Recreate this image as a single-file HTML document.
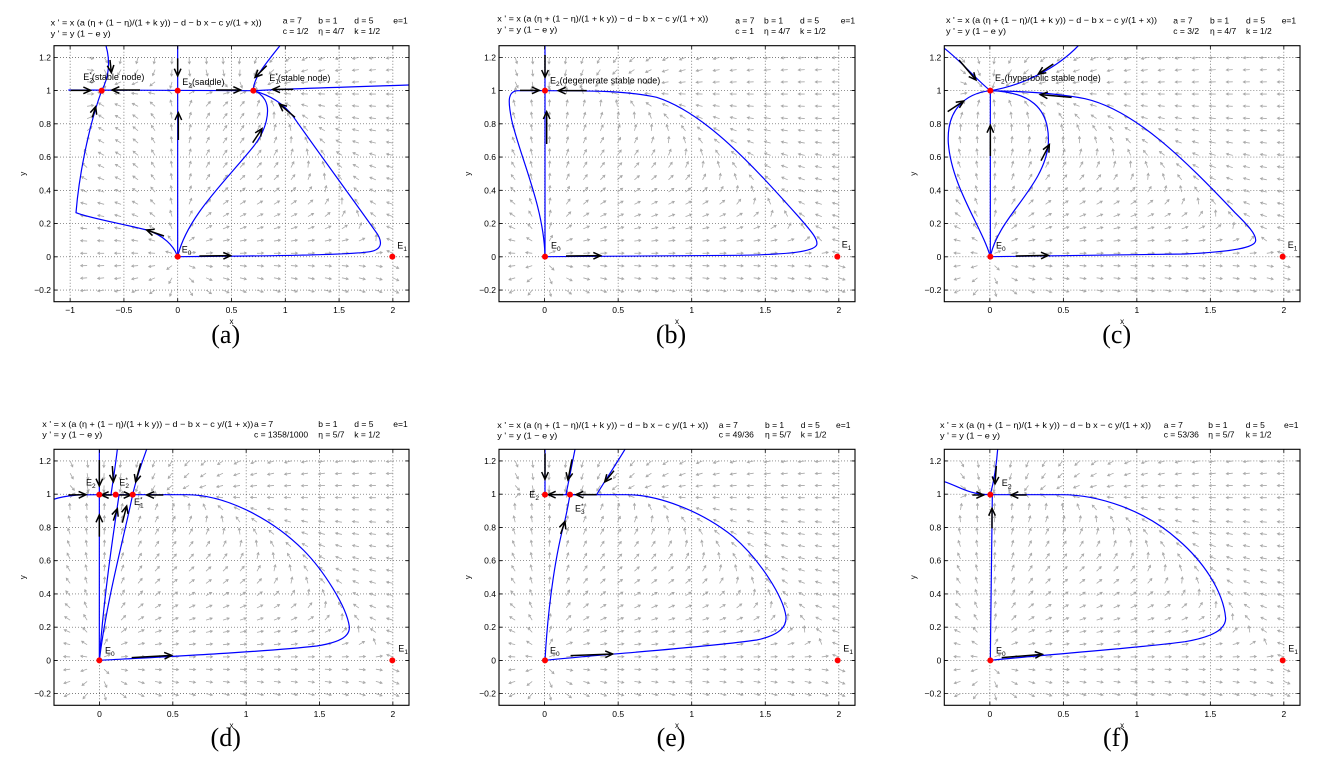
<!DOCTYPE html>
<html><head><meta charset="utf-8">
<style>
html,body{margin:0;padding:0;background:#fff;}
svg{display:block;}
text{font-family:"Liberation Sans",Arial,sans-serif;fill:#000;}
.lab{font-size:9px;}
.hd{font-size:8.5px;}
.pl text{font-family:"Liberation Serif","Times New Roman",serif;font-size:26px;}
.bl{fill:none;stroke:#0000ff;stroke-width:3.6;}
.ar{fill:none;stroke:#000;stroke-width:4.5;marker-end:url(#ah);}
.dot{fill:#ff0000;}
</style></head><body>
<svg id="s" width="1332" height="759" viewBox="0 0 1332 759" xmlns="http://www.w3.org/2000/svg">
<defs><marker id="ah" markerUnits="userSpaceOnUse" markerWidth="40" markerHeight="40" viewBox="-30 -20 40 40" refX="0" refY="0" orient="auto" overflow="visible"><path d="M-22,-10 L0,0 L-22,10" fill="none" stroke="#000" stroke-width="4.5"/></marker></defs>
<rect x="0" y="0" width="1332" height="759" fill="#fff"/>
<g id="back"></g>

<!-- Panel a -->
<g transform="translate(0,0) scale(0.333333)">
<path class="bl" d="M205,270 L760,272"/>
<path class="bl" d="M1227,255 C1000,262 850,267 760,272"/>
<path class="bl" d="M533,137 L533,770"/>
<path class="bl" d="M318,137 C330,180 330,225 305,272"/>
<path class="bl" d="M840,137 C790,200 760,235 760,272"/>
<path class="bl" d="M533,770 C522,738 490,705 440,690 C360,670 260,652 228,638 C236,540 262,390 305,272"/>
<path class="bl" d="M533,770 C560,650 680,540 760,440 C800,390 812,330 795,300 C785,283 772,275 760,272"/>
<path class="bl" d="M533,770 C800,768 1050,765 1110,755 C1150,748 1148,722 1125,692 C1060,600 950,450 880,350 C850,310 810,285 760,272"/>
<path class="ar" d="M330,180 L334,218"/>
<path class="ar" d="M533,175 L533,228"/>
<path class="ar" d="M535,420 L535,338"/>
<path class="ar" d="M212,271 L272,271"/>
<path class="ar" d="M420,270 L336,270"/>
<path class="ar" d="M648,270 L722,270"/>
<path class="ar" d="M800,197 L765,232"/>
<path class="ar" d="M880,268 L818,268"/>
<path class="ar" d="M277,352 L287,320"/>
<path class="ar" d="M492,708 L440,690"/>
<path class="ar" d="M758,428 L786,386"/>
<path class="ar" d="M885,352 L838,312"/>
<path class="ar" d="M598,768 L692,767"/>
<circle class="dot" cx="305" cy="272" r="9"/><circle class="dot" cx="533" cy="272" r="9"/><circle class="dot" cx="760" cy="272" r="9"/><circle class="dot" cx="533" cy="770" r="9"/><circle class="dot" cx="1177" cy="770" r="9"/>
</g>

<!-- Panel b -->
<g transform="translate(440,0) scale(0.333333)">
<path class="bl" d="M315,137 L315,770"/>
<path class="bl" d="M315,770 C312,620 240,470 215,360 C205,310 200,272 235,272 L315,272"/>
<path class="bl" d="M315,770 L900,766 C1050,763 1120,755 1130,735 C1136,718 1110,690 1080,655 C950,510 800,340 650,292 C560,272 450,272 315,272"/>
<path class="ar" d="M315,165 L315,232"/>
<path class="ar" d="M240,271 L298,271"/>
<path class="ar" d="M440,272 L355,272"/>
<path class="ar" d="M320,432 L320,335"/>
<path class="ar" d="M378,768 L482,767"/>
<circle class="dot" cx="315" cy="272" r="9"/><circle class="dot" cx="315" cy="770" r="9"/><circle class="dot" cx="1192" cy="770" r="9"/>
</g>

<!-- Panel c -->
<g transform="translate(885,0) scale(0.333333)">
<path class="bl" d="M316,272 L316,770"/>
<path class="bl" d="M178,145 C230,185 275,240 316,272"/>
<path class="bl" d="M580,137 C520,200 420,255 316,272"/>
<path class="bl" d="M316,770 C290,680 200,560 190,430 C184,330 240,280 316,272"/>
<path class="bl" d="M316,770 C340,650 480,560 490,430 C495,320 430,275 316,272"/>
<path class="bl" d="M316,770 L900,762 C1050,755 1110,742 1112,722 C1114,700 1080,668 1050,638 C900,480 750,330 600,296 C520,280 420,274 316,272"/>
<path class="ar" d="M222,180 L273,240"/>
<path class="ar" d="M505,192 L460,222"/>
<path class="ar" d="M188,335 L236,303"/>
<path class="ar" d="M316,468 L316,376"/>
<path class="ar" d="M468,482 L493,434"/>
<path class="ar" d="M560,292 L466,284"/>
<path class="ar" d="M392,768 L490,766"/>
<circle class="dot" cx="316" cy="272" r="9"/><circle class="dot" cx="316" cy="770" r="9"/><circle class="dot" cx="1193" cy="770" r="9"/>
</g>

<!-- Panel d -->
<g transform="translate(0,400) scale(0.333333)">
<path class="bl" d="M161,298 C200,285 240,284 298,284 L398,284"/>
<path class="bl" d="M298,148 L298,781"/>
<path class="bl" d="M352,148 C346,200 338,250 333,284"/>
<path class="bl" d="M298,781 C310,600 340,400 357,286"/>
<path class="bl" d="M298,781 C320,600 370,420 398,284 C410,230 425,190 440,148"/>
<path class="bl" d="M298,781 C500,770 800,755 950,738 C1030,725 1050,705 1048,680 C1040,620 970,510 910,450 C820,360 680,284 560,284 L398,284"/>
<path class="ar" d="M298,180 L298,258"/>
<path class="ar" d="M337,198 L340,246"/>
<path class="ar" d="M422,190 L407,246"/>
<path class="ar" d="M205,285 L258,284"/>
<path class="ar" d="M335,285 L304,285"/>
<path class="ar" d="M358,285 L393,285"/>
<path class="ar" d="M490,285 L440,285"/>
<path class="ar" d="M298,410 L298,345"/>
<path class="ar" d="M340,362 L352,326"/>
<path class="ar" d="M367,368 L380,318"/>
<path class="ar" d="M395,773 L515,766"/>
<circle class="dot" cx="298" cy="284" r="9"/><circle class="dot" cx="347" cy="284" r="9"/><circle class="dot" cx="398" cy="284" r="9"/><circle class="dot" cx="298" cy="781" r="9"/><circle class="dot" cx="1177" cy="781" r="9"/>
</g>

<!-- Panel e -->
<g transform="translate(440,400) scale(0.333333)">
<path class="bl" d="M315,148 L315,284"/>
<path class="bl" d="M315,284 L470,284 C490,250 530,190 555,148"/>
<path class="bl" d="M405,148 C395,200 385,250 378,284"/>
<path class="bl" d="M315,781 C325,600 350,450 375,360 C382,330 387,300 390,284"/>
<path class="bl" d="M315,781 C500,762 800,742 950,720 C1020,705 1040,680 1038,650 C1030,590 960,480 880,410 C780,330 650,284 560,284 L390,284"/>
<path class="ar" d="M315,160 L315,238"/>
<path class="ar" d="M396,178 L384,240"/>
<path class="ar" d="M522,212 L494,246"/>
<path class="ar" d="M370,284 L325,284"/>
<path class="ar" d="M470,284 L408,284"/>
<path class="ar" d="M362,402 L375,364"/>
<path class="ar" d="M392,767 L518,762"/>
<circle class="dot" cx="315" cy="284" r="9"/><circle class="dot" cx="390" cy="284" r="9"/><circle class="dot" cx="315" cy="781" r="9"/><circle class="dot" cx="1193" cy="781" r="9"/>
</g>

<!-- Panel f -->
<g transform="translate(885,400) scale(0.333333)">
<path class="bl" d="M338,148 C334,200 325,250 316,284"/>
<path class="bl" d="M316,781 C318,600 320,400 322,284"/>
<path class="bl" d="M178,245 C220,258 250,284 316,284 L530,284"/>
<path class="bl" d="M316,781 C500,762 750,745 900,725 C990,710 1022,685 1022,655 C1015,570 950,480 880,420 C780,330 640,284 530,284"/>
<path class="ar" d="M334,198 L330,252"/>
<path class="ar" d="M262,285 L296,285"/>
<path class="ar" d="M425,285 L378,285"/>
<path class="ar" d="M321,385 L321,325"/>
<path class="ar" d="M350,773 L472,763"/>
<circle class="dot" cx="316" cy="284" r="9"/><circle class="dot" cx="316" cy="781" r="9"/><circle class="dot" cx="1193" cy="781" r="9"/>
</g>

<g id="front"></g>

<!-- Headers -->
<g class="hd">
<text x="50.7" y="25.3" textLength="211" lengthAdjust="spacingAndGlyphs">x ' = x (a (η + (1 − η)/(1 + k y)) − d − b x − c y/(1 + x))</text>
<text x="50.7" y="36.3" textLength="60" lengthAdjust="spacingAndGlyphs">y ' = y (1 − e y)</text>
<text x="282.7" y="23.7">a = 7</text><text x="318.3" y="23.7">b = 1</text><text x="354.3" y="23.7">d = 5</text><text x="393.3" y="23.7">e=1</text>
<text x="282.7" y="34">c = 1/2</text><text x="318.3" y="34">η = 4/7</text><text x="354.3" y="34">k = 1/2</text>

<text x="497.3" y="21.5" textLength="211" lengthAdjust="spacingAndGlyphs">x ' = x (a (η + (1 − η)/(1 + k y)) − d − b x − c y/(1 + x))</text>
<text x="497.3" y="32.5" textLength="60" lengthAdjust="spacingAndGlyphs">y ' = y (1 − e y)</text>
<text x="735.3" y="23.7">a = 7</text><text x="764" y="23.7">b = 1</text><text x="800" y="23.7">d = 5</text><text x="840.7" y="23.7">e=1</text>
<text x="735.3" y="34">c = 1</text><text x="764" y="34">η = 4/7</text><text x="800" y="34">k = 1/2</text>

<text x="946" y="23" textLength="211" lengthAdjust="spacingAndGlyphs">x ' = x (a (η + (1 − η)/(1 + k y)) − d − b x − c y/(1 + x))</text>
<text x="946" y="34" textLength="60" lengthAdjust="spacingAndGlyphs">y ' = y (1 − e y)</text>
<text x="1173.3" y="23.7">a = 7</text><text x="1210" y="23.7">b = 1</text><text x="1246" y="23.7">d = 5</text><text x="1281.7" y="23.7">e=1</text>
<text x="1173.3" y="34">c = 3/2</text><text x="1210" y="34">η = 4/7</text><text x="1246" y="34">k = 1/2</text>

<text x="42.3" y="427" textLength="211" lengthAdjust="spacingAndGlyphs">x ' = x (a (η + (1 − η)/(1 + k y)) − d − b x − c y/(1 + x))</text>
<text x="42.3" y="437.3" textLength="60" lengthAdjust="spacingAndGlyphs">y ' = y (1 − e y)</text>
<text x="254" y="427">a = 7</text><text x="318.3" y="427">b = 1</text><text x="354.3" y="427">d = 5</text><text x="393.3" y="427">e=1</text>
<text x="254" y="437.3">c = 1358/1000</text><text x="318.3" y="437.3">η = 5/7</text><text x="354.3" y="437.3">k = 1/2</text>

<text x="497.3" y="428" textLength="211" lengthAdjust="spacingAndGlyphs">x ' = x (a (η + (1 − η)/(1 + k y)) − d − b x − c y/(1 + x))</text>
<text x="497.3" y="438.7" textLength="60" lengthAdjust="spacingAndGlyphs">y ' = y (1 − e y)</text>
<text x="718.7" y="428">a = 7</text><text x="765" y="428">b = 1</text><text x="800.7" y="428">d = 5</text><text x="836" y="428">e=1</text>
<text x="718.7" y="437.3">c = 49/36</text><text x="765" y="437.3">η = 5/7</text><text x="800.7" y="437.3">k = 1/2</text>

<text x="940" y="428" textLength="211" lengthAdjust="spacingAndGlyphs">x ' = x (a (η + (1 − η)/(1 + k y)) − d − b x − c y/(1 + x))</text>
<text x="940" y="438.7" textLength="60" lengthAdjust="spacingAndGlyphs">y ' = y (1 − e y)</text>
<text x="1163.7" y="428">a = 7</text><text x="1208.3" y="428">b = 1</text><text x="1245.7" y="428">d = 5</text><text x="1284" y="428">e=1</text>
<text x="1163.7" y="437.3">c = 53/36</text><text x="1208.3" y="437.3">η = 5/7</text><text x="1245.7" y="437.3">k = 1/2</text>
</g>

<!-- Point labels -->
<g class="lab">
<text x="83.3" y="80">E<tspan font-size="6.5" dy="2.5">2</tspan><tspan font-size="6.5" dx="-3.6" dy="-6">*</tspan><tspan dy="3.5">(stable node)</tspan></text>
<text x="182.3" y="85">E<tspan font-size="6.5" dy="2.5">2</tspan><tspan dy="-2.5">(saddle)</tspan></text>
<text x="269.3" y="81">E<tspan font-size="6.5" dy="2.5">1</tspan><tspan font-size="6.5" dx="-3.6" dy="-6">*</tspan><tspan dy="3.5">(stable node)</tspan></text>
<text x="181.7" y="252.3">E<tspan font-size="6.5" dy="2.5">0</tspan></text>
<text x="397.3" y="248.3">E<tspan font-size="6.5" dy="2.5">1</tspan></text>

<text x="550" y="83.3">E<tspan font-size="6.5" dy="2.5">2</tspan><tspan dy="-2.5">(degenerate stable node)</tspan></text>
<text x="551" y="248.3">E<tspan font-size="6.5" dy="2.5">0</tspan></text>
<text x="841.7" y="247.3">E<tspan font-size="6.5" dy="2.5">1</tspan></text>

<text x="995" y="81">E<tspan font-size="6.5" dy="2.5">2</tspan><tspan dy="-2.5">(hyperbolic stable node)</tspan></text>
<text x="996" y="248.3">E<tspan font-size="6.5" dy="2.5">0</tspan></text>
<text x="1287.7" y="248">E<tspan font-size="6.5" dy="2.5">1</tspan></text>

<text x="86" y="485.7">E<tspan font-size="6.5" dy="2.5">2</tspan></text>
<text x="119.3" y="485.7">E<tspan font-size="6.5" dy="2.5">2</tspan><tspan font-size="6.5" dx="-3.6" dy="-6">*</tspan></text>
<text x="134" y="505">E<tspan font-size="6.5" dy="2.5">1</tspan><tspan font-size="6.5" dx="-3.6" dy="-6">*</tspan></text>
<text x="105" y="653.3">E<tspan font-size="6.5" dy="2.5">0</tspan></text>
<text x="398.3" y="651.7">E<tspan font-size="6.5" dy="2.5">1</tspan></text>

<text x="529.3" y="497.3">E<tspan font-size="6.5" dy="2.5">2</tspan></text>
<text x="575" y="511.7">E<tspan font-size="6.5" dy="2.5">3</tspan><tspan font-size="6.5" dx="-3.6" dy="-6">*</tspan></text>
<text x="550" y="653.3">E<tspan font-size="6.5" dy="2.5">0</tspan></text>
<text x="843.3" y="651.7">E<tspan font-size="6.5" dy="2.5">1</tspan></text>

<text x="1001.7" y="486">E<tspan font-size="6.5" dy="2.5">2</tspan></text>
<text x="996" y="653.3">E<tspan font-size="6.5" dy="2.5">0</tspan></text>
<text x="1288.3" y="651.7">E<tspan font-size="6.5" dy="2.5">1</tspan></text>
</g>

<!-- Panel letters -->
<g class="pl" text-anchor="middle">
<text x="225.7" y="343">(a)</text>
<text x="671" y="343">(b)</text>
<text x="1116.7" y="343">(c)</text>
<text x="225.7" y="746">(d)</text>
<text x="671" y="746">(e)</text>
<text x="1116" y="746">(f)</text>
</g>
</svg>
<script>
(function(){
var P=[
 {L:54,T:45.7,W:355,H:256,x0:-1.15,x1:2.15,c:0.5,eta:4/7,xt:[-1,-0.5,0,0.5,1,1.5,2],qa:-1},
 {L:499,T:45.7,W:356,H:256,x0:-0.31,x1:2.11,c:1,eta:4/7,xt:[0,0.5,1,1.5,2],qa:-0.2},
 {L:944.3,T:45.7,W:355.7,H:256,x0:-0.31,x1:2.11,c:1.5,eta:4/7,xt:[0,0.5,1,1.5,2],qa:-0.2},
 {L:54,T:449.3,W:355,H:256,x0:-0.31,x1:2.11,c:1.358,eta:5/7,xt:[0,0.5,1,1.5,2],qa:-0.2},
 {L:499,T:449.3,W:356,H:256,x0:-0.31,x1:2.11,c:49/36,eta:5/7,xt:[0,0.5,1,1.5,2],qa:-0.2},
 {L:944.3,T:449.3,W:355.7,H:256,x0:-0.31,x1:2.11,c:53/36,eta:5/7,xt:[0,0.5,1,1.5,2],qa:-0.2}
];
var yt=[-0.2,0,0.2,0.4,0.6,0.8,1,1.2];
function fmt(v){var s=(Math.round(v*10)/10).toString();return s.replace('-','\u2212');}
function r(v){return Math.round(v*100)/100;}
var back='',front='';
P.forEach(function(p){
 var X=function(v){return p.L+(v-p.x0)/(p.x1-p.x0)*p.W;};
 var Y=function(v){return p.T+(1.27-v)/1.54*p.H;};
 var B=p.T+p.H,R=p.L+p.W;
 var gd='';
 p.xt.forEach(function(v){var x=r(X(v));gd+='M'+x+','+p.T+'V'+B;});
 yt.forEach(function(v){var y=r(Y(v));gd+='M'+p.L+','+y+'H'+R;});
 back+='<path d="'+gd+'" fill="none" stroke="#555" stroke-width="0.7" stroke-dasharray="1,2"/>';
 var qd='';var Ln=6.5,hl=2.3,hw=1.3;
 var sxu=p.W/(p.x1-p.x0),syu=p.H/1.54;
 for(var i=0;i<20;i++){
  var x=p.qa+i*(2-p.qa)/19;
  for(var j=0;j<20;j++){
   var y=-0.2+j*1.4/19;
   var vx=x*(7*(p.eta+(1-p.eta)/(1+0.5*y))-5-x-p.c*y/(1+x));
   var vy=y*(1-y);
   var sx=vx*sxu,sy=-vy*syu;var n=Math.sqrt(sx*sx+sy*sy);
   if(!isFinite(n)||n<1e-9)continue;
   var ux=sx/n,uy=sy/n;var px=X(x),py=Y(y);
   var tx=px,ty=py,hx=px+ux*Ln,hy=py+uy*Ln;
   var bx=hx-ux*hl,by=hy-uy*hl;
   qd+='M'+r(tx)+','+r(ty)+'L'+r(hx)+','+r(hy)+'M'+r(bx-uy*hw)+','+r(by+ux*hw)+'L'+r(hx)+','+r(hy)+'L'+r(bx+uy*hw)+','+r(by-ux*hw);
  }
 }
 back+='<path d="'+qd+'" fill="none" stroke="#a8a8a8" stroke-width="0.8"/>';
 var td='';
 p.xt.forEach(function(v){var x=r(X(v));td+='M'+x+','+B+'v-3.5M'+x+','+p.T+'v3.5';});
 yt.forEach(function(v){var y=r(Y(v));td+='M'+p.L+','+y+'h3.5M'+R+','+y+'h-3.5';});
 front+='<path d="'+td+'" fill="none" stroke="#000" stroke-width="0.8"/>';
 front+='<rect x="'+p.L+'" y="'+p.T+'" width="'+p.W+'" height="'+p.H+'" fill="none" stroke="#000" stroke-width="1.1"/>';
 p.xt.forEach(function(v){front+='<text x="'+r(X(v))+'" y="'+r(B+11.5)+'" text-anchor="middle" font-size="8.5">'+fmt(v)+'</text>';});
 yt.forEach(function(v){front+='<text x="'+r(p.L-3)+'" y="'+r(Y(v)+3)+'" text-anchor="end" font-size="8.5">'+fmt(v)+'</text>';});
 front+='<text x="'+r(p.L+p.W/2)+'" y="'+r(B+22.5)+'" text-anchor="middle" font-size="8">x</text>';
 var yx=r(p.L-28.5),yy=r(p.T+p.H/2);
 front+='<text x="'+yx+'" y="'+yy+'" text-anchor="middle" font-size="8" transform="rotate(-90 '+yx+' '+yy+')">y</text>';
});
document.getElementById('back').innerHTML=back;
document.getElementById('front').innerHTML=front;
})();
</script>
</body></html>
